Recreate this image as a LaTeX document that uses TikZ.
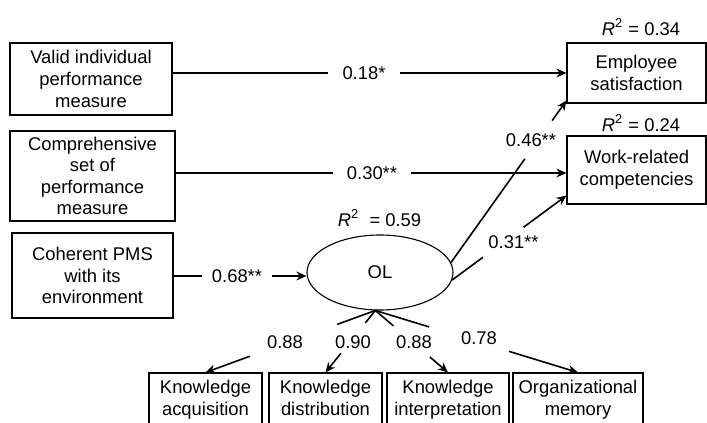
\documentclass[tikz,border=0pt]{standalone}
\usepackage{fontspec}
\setmainfont{Liberation Sans}
\usetikzlibrary{arrows.meta,calc,shapes.geometric}
\begin{document}
\begin{tikzpicture}[x=0.5pt,y=-0.5pt,
  txt/.style={font=\fontsize{9.2}{10.8}\selectfont},
  box/.style={txt,draw,line width=0.55pt,align=center,inner sep=0pt},
  lab/.style={txt,inner ysep=1pt,inner xsep=7pt},
  arr/.style={line width=0.8pt,-{Stealth[length=5pt,width=4.4pt]}},
  ln/.style={line width=0.8pt}]
\useasboundingbox (0,0) rectangle (707,423);
\clip (0,0) rectangle (707,423);
% boxes
\node[box,minimum width=81pt,minimum height=36pt] (b1) at (91,79) {Valid individual\\performance\\measure};
\node[box,minimum width=82.5pt,minimum height=45pt] (b2) at (92.5,176) {Comprehensive\\set of\\performance\\measure};
\node[box,minimum width=80.5pt,minimum height=42.5pt] (b3) at (92.5,275.5) {Coherent PMS\\with its\\environment};
\node[box,minimum width=69.5pt,minimum height=30pt] (es) at (636.5,73) {Employee\\satisfaction};
\node[box,minimum width=69.5pt,minimum height=34pt] (wr) at (636.5,170) {Work-related\\competencies};
\node[box,ellipse,minimum width=73pt,minimum height=37.5pt] (ol) at (380,272.5) {OL};
\node[box,minimum width=56.5pt,minimum height=27pt] (ka) at (205.5,400) {Knowledge\\acquisition};
\node[box,minimum width=56.5pt,minimum height=27pt] (kd) at (325.5,400) {Knowledge\\distribution\vphantom{y}};
\node[box,minimum width=61pt,minimum height=27pt] (ki) at (448,400) {Knowledge\\interpretation};
\node[box,minimum width=65pt,minimum height=27pt] (om) at (578,400) {Organizational\\memory};
% R^2 labels
\node[txt,inner sep=0pt] (r1) at (641,27) {\textit{R}\textsuperscript{2} = 0.34};
\node[txt,inner sep=0pt] (r2) at (641,123) {\textit{R}\textsuperscript{2} = 0.24};
\node[txt,inner sep=0pt] (r3) at (379.5,218) {\textit{R}\textsuperscript{2}\ \ = 0.59};
% horizontal paths
\node[lab] (l1) at (364,73) {0.18*};
\draw[ln] (b1.east|-l1) -- (l1);
\draw[arr] (l1) -- (es.west|-l1);
\node[lab] (l2) at (372,173) {0.30**};
\draw[ln] (b2.east|-l2) -- (l2);
\draw[arr] (l2) -- (wr.west|-l2);
\node[lab,inner xsep=5pt] (l3) at (237,276) {0.68**};
\draw[ln] (b3.east|-l3) -- (l3);
\draw[arr] (l3) -- (ol.west|-l3);
% OL -> outcomes
\coordinate (e46) at ($(es.south west)+(0,-3)$);
\coordinate (e31) at ($(wr.south west)+(0,-9)$);
\node[lab,inner sep=0pt] (l46) at (531,140) {0.46**};
\draw[ln] (ol.8) -- ($(ol.8)!0.64!(e46)$);
\draw[arr] ($(ol.8)!0.876!(e46)$) -- (e46);
\node[lab,inner sep=0pt] (l31) at (513.5,242) {0.31**};
\draw[ln] (ol.354) -- ($(ol.354)!0.27!(e31)$);
\draw[arr] ($(ol.354)!0.625!(e31)$) -- (e31);
% OL -> indicators
\coordinate (ob) at (ol.263);
\node[lab,inner sep=0pt] (m1) at (285,342) {0.88};
\node[lab,inner sep=0pt] (m2) at (353,342) {0.90};
\node[lab,inner sep=0pt] (m3) at (414,342) {0.88};
\node[lab,inner sep=0pt] (m4) at (479,338) {0.78};
\draw[ln] (ob) -- ($(ob)!0.224!(ka.north)$);
\draw[arr] ($(ob)!0.739!(ka.north)$) -- (ka.north);
\draw[ln] (ob) -- ($(ob)!0.2!(kd.north)$);
\draw[arr] ($(ob)!0.69!(kd.north)$) -- (kd.north);
\draw[ln] (ob) -- ($(ob)!0.25!(ki.north)$);
\draw[arr] ($(ob)!0.75!(ki.north)$) -- (ki.north);
\draw[ln] (ob) -- ($(ob)!0.265!(om.north)$);
\draw[arr] ($(ob)!0.66!(om.north)$) -- (om.north);
\end{tikzpicture}
\end{document}
